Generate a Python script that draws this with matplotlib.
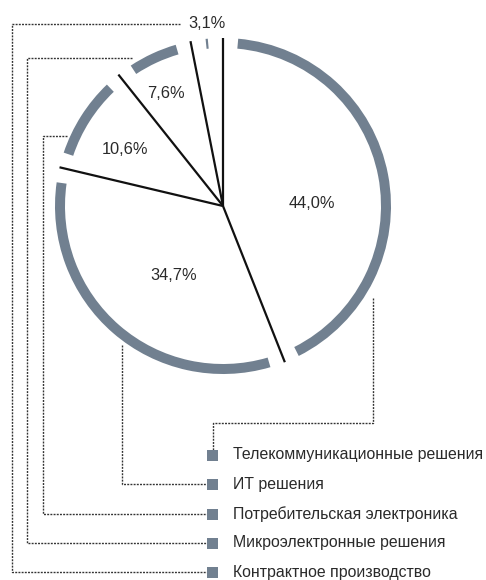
import numpy as np
import matplotlib
matplotlib.use("Agg")
import matplotlib.pyplot as plt
from matplotlib.patches import Wedge, Rectangle

plt.rcParams['font.family'] = ['Liberation Sans', 'DejaVu Sans']

# ---- data ----
categories = ['Телекоммуникационные решения', 'ИТ решения',
              'Потребительская электроника', 'Микроэлектронные решения',
              'Контрактное производство']
shares = [44.0, 34.7, 10.6, 7.6, 3.1]
share_labels = ['44,0%', '34,7%', '10,6%', '7,6%', '3,1%']

# ---- layout (pixel space, y downward) ----
W, H = 486, 580
cx, cy = 223, 206
r_line = 168
r_out, ring_w = 168, 10
gap_deg = 5.2
arc_color = '#718090'
text_color = '#2a2a2a'
dot_color = '#333333'

label_pos = [(312, 203), (174, 275), (125, 149), (166, 94), (207, 23)]
legend_y = [455, 484, 514, 543, 572]
marker_x = 212.5
marker_size = 11
legend_text_x = 233
connectors = [
    [(373, 298), (373, 423), (213, 423), (213, legend_y[0] - marker_size / 2)],
    [(122, 345), (122, legend_y[1]), (marker_x - marker_size / 2, legend_y[1])],
    [(67, 136), (43, 136), (43, legend_y[2]), (marker_x - marker_size / 2, legend_y[2])],
    [(132, 58), (27, 58), (27, legend_y[3]), (marker_x - marker_size / 2, legend_y[3])],
    [(180, 24), (12, 24), (12, legend_y[4]), (marker_x - marker_size / 2, legend_y[4])],
]

fig = plt.figure(figsize=(W / 100, H / 100), dpi=100)
ax = fig.add_axes([0, 0, 1, 1])
ax.set_xlim(0, W)
ax.set_ylim(H, 0)
ax.axis('off')

total = sum(shares)
bounds = np.concatenate([[0], np.cumsum(shares)]) / total * 360.0  # clockwise from top

# ring arcs (data angle = clock angle - 90 with inverted y axis)
for i in range(len(shares)):
    a1 = bounds[i] + gap_deg
    a2 = bounds[i + 1] - gap_deg
    if a2 > a1:
        ax.add_patch(Wedge((cx, cy), r_out, a1 - 90, a2 - 90, width=ring_w,
                           facecolor=arc_color, edgecolor='none', zorder=2))

# radial separator lines
for a in bounds[:-1]:
    rad = np.deg2rad(a)
    ax.plot([cx, cx + r_line * np.sin(rad)], [cy, cy - r_line * np.cos(rad)],
            color='#111111', lw=1.6, solid_capstyle='butt', zorder=3)

# percentage labels
for (x, y), s in zip(label_pos, share_labels):
    ax.text(x, y, s, ha='center', va='center', fontsize=11.8, color=text_color, zorder=4)

# dotted connectors
for path in connectors:
    xs, ys = zip(*path)
    ax.plot(xs, ys, color=dot_color, lw=1.0, linestyle=(0, (1.4, 0.9)), zorder=1)

# legend markers and text
for y, name in zip(legend_y, categories):
    ax.add_patch(Rectangle((marker_x - marker_size / 2, y - marker_size / 2),
                           marker_size, marker_size, facecolor=arc_color,
                           edgecolor='none', zorder=3))
    ax.text(legend_text_x, y, name, ha='left', va='center', fontsize=11.4,
            color=text_color, zorder=4)

fig.savefig('out.png', dpi=100, facecolor='white')
